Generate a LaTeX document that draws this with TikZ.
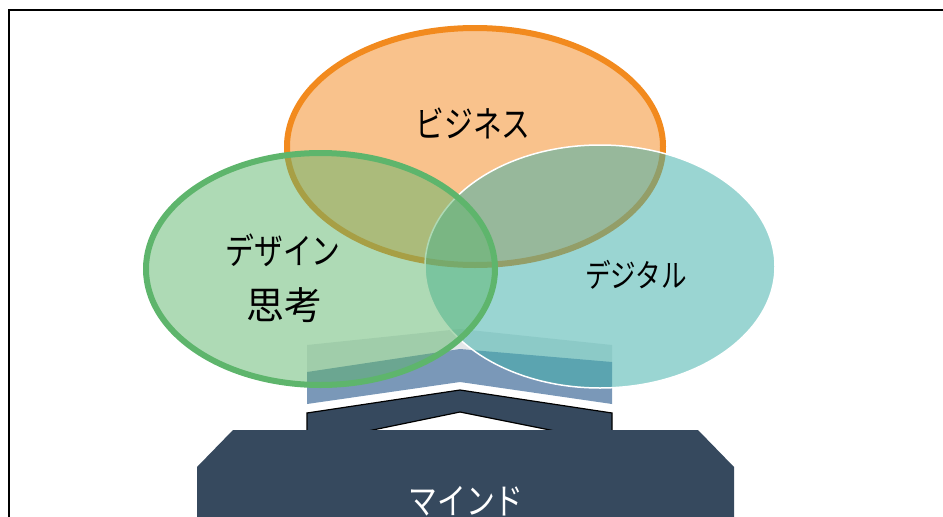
\documentclass[tikz,border=0pt]{standalone}
\usepackage{fontspec}
\setmainfont{Noto Sans CJK JP}
\definecolor{orfill}{HTML}{F9C28C}
\definecolor{orline}{HTML}{F28A1E}
\definecolor{grline}{HTML}{5EB56C}
\definecolor{teal1}{HTML}{40B0AA}
\definecolor{navy}{HTML}{36495E}
\definecolor{bandblue}{HTML}{7A98B8}
\definecolor{bandpale}{HTML}{8FA0A8}
\tikzset{
  label/.style={inner sep=0pt, font=\fontsize{36}{40}\selectfont},
  navyshape/.style={fill=navy},
}
\newcommand{\kana}[1]{\scalebox{0.8}[1]{#1}}
\begin{document}
\begin{tikzpicture}[x=1pt,y=-1pt]
\useasboundingbox (0,0) rectangle (943,517);
% frame
\draw[line width=1.5pt] (9,540) -- (9,10) -- (960,10);
% bands
\fill[bandpale, opacity=0.25] (307,345) -- (460,329) -- (612,345) -- (612,372) -- (460,356) -- (307,372) -- cycle;
\fill[bandblue] (307,372) -- (460,349) -- (612,362) -- (612,404) -- (460,382) -- (307,404) -- cycle;
% navy chevron
\draw[navyshape, draw=black, line width=1.2pt] (307,432) -- (307,413) -- (460,390) -- (612,413) -- (612,432) -- (560,432) -- (460,412) -- (363,432) -- cycle;
% big base
\fill[navy] (233,430) -- (698,430) -- (734,467) -- (734,540) -- (197,540) -- (197,467) -- cycle;
% ellipses
\draw[fill=orfill, draw=orline, line width=6pt] (475,146.5) ellipse [x radius=188, y radius=118.5];
\fill[teal1, opacity=0.53] (600,266.5) ellipse [x radius=175, y radius=121.5];
\draw[white, line width=1.5pt] (600,266.5) ellipse [x radius=175, y radius=121.5];
\fill[grline, opacity=0.5] (320.5,269) ellipse [x radius=174.5, y radius=116];
\draw[grline, line width=6pt] (320.5,269) ellipse [x radius=174.5, y radius=116];
% texts
\node[label] (biz) at (473,123) {\kana{ビジネス}};
\node[label] (des) at (283,250) {\kana{デザイン}};
\node[label, font=\fontsize{38}{42}\selectfont] (shi) at (284,305) {思考};
\node[label, font=\fontsize{32}{36}\selectfont] (dig) at (636,275) {\kana{デジタル}};
\node[label, text=white] (mind) at (466,501) {\kana{マインド}};
\end{tikzpicture}
\end{document}
